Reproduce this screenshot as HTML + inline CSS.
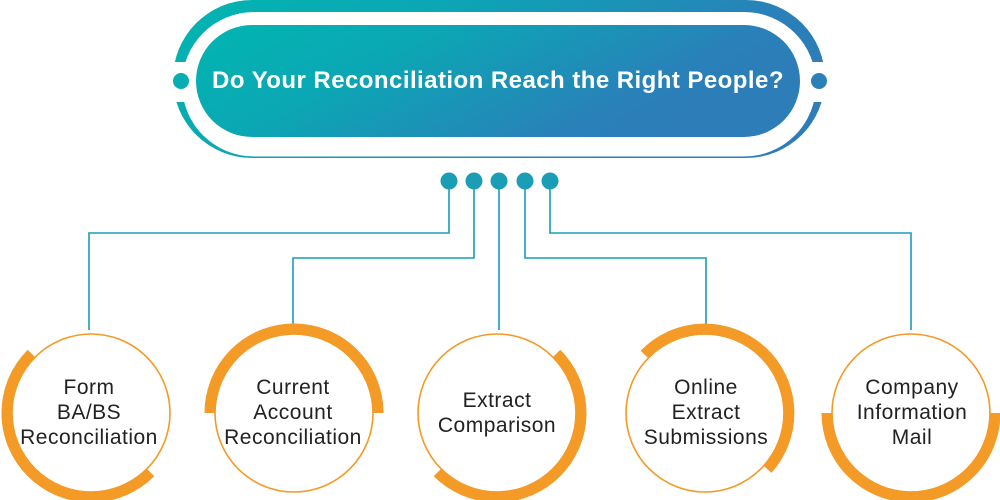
<!DOCTYPE html>
<html><head><meta charset="utf-8"><style>
html,body{margin:0;padding:0;background:#fff;}
svg{display:block}
text{font-family:"Liberation Sans",sans-serif;}
</style></head><body>
<svg width="1000" height="500" viewBox="0 0 1000 500" xmlns="http://www.w3.org/2000/svg">
<defs>
<linearGradient id="g" x1="0" y1="0" x2="1" y2="0.35">
<stop offset="0" stop-color="#02b5b0"/><stop offset="0.35" stop-color="#0aa8b4"/><stop offset="0.85" stop-color="#2a80b9"/><stop offset="1" stop-color="#2d7db8"/>
</linearGradient>
</defs>
<rect x="173" y="0" width="652" height="158" rx="79" fill="url(#g)"/>
<rect x="182" y="12" width="634" height="144.5" rx="72" fill="#fff"/>
<rect x="165" y="62" width="30" height="40" fill="#fff"/>
<rect x="805" y="62" width="30" height="40" fill="#fff"/>
<circle cx="181" cy="81" r="8" fill="#06aeb2"/>
<circle cx="819" cy="81" r="8" fill="#2b80b8"/>
<rect x="196" y="25" width="604" height="112" rx="56" fill="url(#g)"/>
<text x="498" y="88" text-anchor="middle" font-size="24" font-weight="bold" letter-spacing="0.45" fill="#fff">Do Your Reconciliation Reach the Right People?</text>
<g stroke="#1a9db5" stroke-width="1.6" fill="none">
<path d="M449 181 V233 H89 V330"/>
<path d="M474 181 V258 H293 V330"/>
<path d="M499 181 V330"/>
<path d="M525 181 V258 H706 V330"/>
<path d="M550 181 V233 H911 V330"/>
</g>
<g fill="#1a9db5">
<circle cx="449" cy="181" r="8.5"/><circle cx="474" cy="181" r="8.5"/><circle cx="499" cy="181" r="8.5"/><circle cx="525" cy="181" r="8.5"/><circle cx="550" cy="181" r="8.5"/>
</g>
<g fill="none" stroke="#f39a27" stroke-width="1.6">
<circle cx="91" cy="413" r="79"/><circle cx="294" cy="413" r="79"/><circle cx="497" cy="413" r="79"/><circle cx="705" cy="413" r="79"/><circle cx="911" cy="413" r="79"/>
</g>
<g fill="none" stroke="#f39a27" stroke-width="11">
<path d="M31.6 353.6 A84 84 0 0 0 150.4 472.4"/>
<path d="M210 413 A84 84 0 0 1 378 413"/>
<path d="M556.4 353.6 A84 84 0 0 1 437.6 472.4"/>
<path d="M644.6 354.6 A84 84 0 0 1 767.4 469.2"/>
<path d="M827 413 A84 84 0 0 0 995 413"/>
</g>
<g font-size="21" letter-spacing="0.5" fill="#222" text-anchor="middle">
<text x="89" y="394">Form</text><text x="89" y="419">BA/BS</text><text x="89" y="444">Reconciliation</text>
<text x="293" y="394">Current</text><text x="293" y="419">Account</text><text x="293" y="444">Reconciliation</text>
<text x="497" y="407">Extract</text><text x="497" y="432">Comparison</text>
<text x="706" y="394">Online</text><text x="706" y="419">Extract</text><text x="706" y="444">Submissions</text>
<text x="912" y="394">Company</text><text x="912" y="419">Information</text><text x="912" y="444">Mail</text>
</g>
</svg>
</body></html>
